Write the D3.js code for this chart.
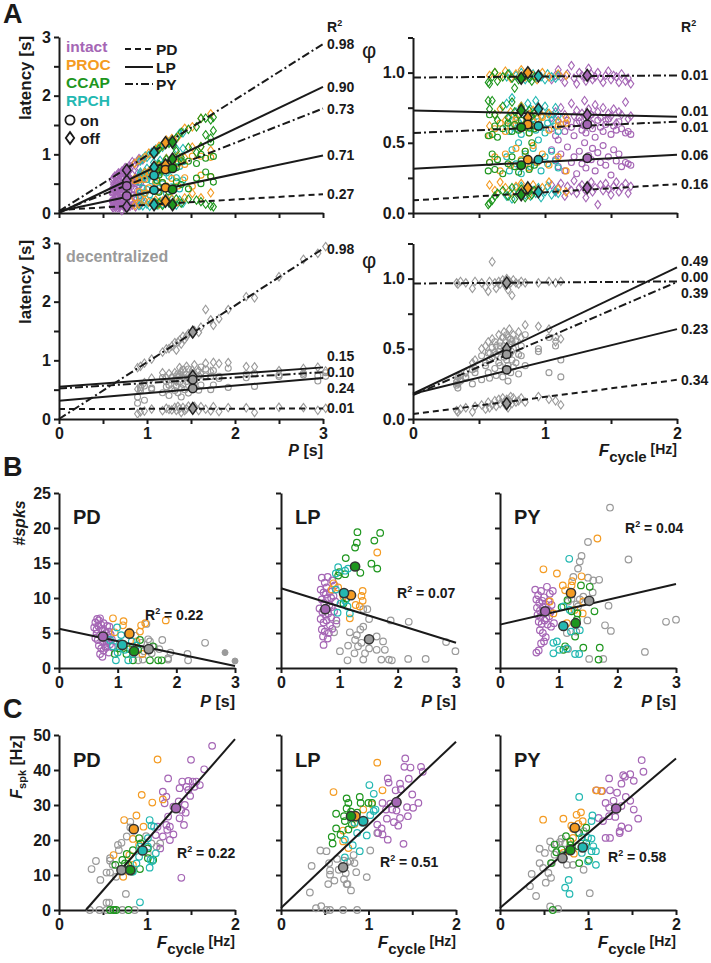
<!DOCTYPE html>
<html lang="en">
<head>
<meta charset="UTF-8">
<title>Phase, latency and spikes</title>
<script src="https://cdn.jsdelivr.net/npm/d3@7"></script>
<style>
    body { margin: 0; background: #fff; }
    svg { font-family: "Liberation Sans", Arial, sans-serif; font-weight: bold; }
</style>
</head>
<body>
<svg id="fig" width="711" height="963"></svg>
<script>
// ---------- data ----------
const groupNames = ["intact", "PROC", "CCAP", "RPCH"];
const groupColors = {intact: "#a566b5", PROC: "#f49b22", CCAP: "#1e961e", RPCH: "#23b8b2", decent: "#9a9a9a"};
const events = ["pdOff", "lpOn", "lpOff", "pyOn", "pyOff"];
const eventShape = ["diamond", "circle", "diamond", "circle", "diamond"];
const eventNeuron = ["PD", "LP", "LP", "PY", "PY"];

// rows: [Fcycle, phase PD off, LP on, LP off, PY on, PY off]
const phaseIntact = [
    [1.05, 0.20, 0.45, 0.68, 0.60, 0.95], [1.08, 0.15, 0.38, 0.72, 0.55, 0.98], [1.10, 0.18, 0.33, 0.66, 0.52, 1.02],
    [1.12, 0.21, 0.42, 0.75, 0.63, 0.97], [1.15, 0.12, 0.30, 0.70, 0.58, 0.93], [1.17, 0.19, 0.47, 0.62, 0.66, 0.99],
    [1.20, 0.16, 0.36, 0.78, 0.61, 1.05], [1.22, 0.23, 0.40, 0.69, 0.55, 0.96], [1.24, 0.14, 0.28, 0.73, 0.64, 0.92],
    [1.26, 0.18, 0.44, 0.65, 0.68, 1.00], [1.28, 0.20, 0.35, 0.71, 0.59, 0.98], [1.30, 0.17, 0.50, 0.80, 0.62, 0.97],
    [1.31, 0.11, 0.32, 0.67, 0.57, 0.94], [1.33, 0.19, 0.41, 0.74, 0.65, 1.03], [1.35, 0.22, 0.38, 0.70, 0.70, 0.99],
    [1.36, 0.15, 0.46, 0.63, 0.60, 0.95], [1.38, 0.18, 0.30, 0.77, 0.54, 0.97], [1.40, 0.06, 0.43, 0.72, 0.66, 1.00],
    [1.42, 0.20, 0.36, 0.68, 0.61, 0.96], [1.44, 0.16, 0.48, 0.75, 0.58, 0.93], [1.46, 0.21, 0.34, 0.66, 0.63, 0.98],
    [1.48, 0.17, 0.40, 0.71, 0.67, 1.01], [1.50, 0.13, 0.27, 0.69, 0.56, 0.95], [1.52, 0.19, 0.45, 0.74, 0.62, 0.98],
    [1.54, 0.22, 0.37, 0.64, 0.59, 0.97], [1.56, 0.15, 0.42, 0.72, 0.65, 0.93], [1.58, 0.18, 0.33, 0.70, 0.60, 0.99],
    [1.61, 0.21, 0.36, 0.79, 0.57, 0.94], [1.63, 0.14, 0.35, 0.67, 0.58, 0.96], [1.65, 0.19, 0.34, 0.69, 0.56, 0.92]
];
const phasePROC = [
    [0.58, 0.20, 0.36, 0.62, 0.55, 0.98], [0.62, 0.16, 0.40, 0.70, 0.60, 1.00], [0.66, 0.22, 0.30, 0.74, 0.64, 0.97],
    [0.70, 0.18, 0.42, 0.66, 0.58, 1.01], [0.74, 0.14, 0.34, 0.72, 0.62, 0.96], [0.78, 0.19, 0.46, 0.68, 0.66, 0.99],
    [0.82, 0.21, 0.38, 0.76, 0.60, 1.02], [0.85, 0.17, 0.44, 0.64, 0.63, 0.97], [0.88, 0.13, 0.32, 0.70, 0.57, 1.00],
    [0.91, 0.20, 0.48, 0.73, 0.65, 0.98], [0.94, 0.16, 0.36, 0.67, 0.61, 0.95], [0.98, 0.18, 0.42, 0.69, 0.68, 1.00],
    [1.03, 0.22, 0.34, 0.71, 0.59, 0.97], [1.10, 0.17, 0.40, 0.65, 0.62, 0.99], [1.16, 0.15, 0.30, 0.68, 0.64, 0.98]
];
const phaseCCAP = [
    [0.57, 0.06, 0.30, 0.80, 0.55, 0.93], [0.58, 0.07, 0.36, 0.74, 0.70, 0.92], [0.60, 0.09, 0.42, 0.80, 0.56, 0.97],
    [0.62, 0.12, 0.31, 0.70, 0.62, 1.00], [0.64, 0.14, 0.38, 0.66, 0.54, 0.94], [0.68, 0.16, 0.28, 0.76, 0.60, 0.97],
    [0.72, 0.12, 0.35, 0.68, 0.64, 0.99], [0.75, 0.18, 0.40, 0.79, 0.58, 0.96], [0.77, 0.10, 0.33, 0.72, 0.63, 0.89],
    [0.80, 0.14, 0.29, 0.70, 0.59, 0.95], [0.82, 0.17, 0.37, 0.75, 0.66, 0.97], [0.85, 0.11, 0.44, 0.63, 0.61, 0.98],
    [0.88, 0.15, 0.31, 0.73, 0.57, 0.96], [0.90, 0.13, 0.50, 0.69, 0.62, 0.94], [0.92, 0.16, 0.34, 0.71, 0.60, 0.97]
];
const phaseRPCH = [
    [0.71, 0.12, 0.40, 0.78, 0.62, 0.97], [0.73, 0.16, 0.30, 0.68, 0.58, 0.99], [0.75, 0.10, 0.45, 0.82, 0.66, 0.96],
    [0.78, 0.18, 0.35, 0.72, 0.60, 0.98], [0.80, 0.14, 0.50, 0.65, 0.64, 0.97], [0.82, 0.19, 0.28, 0.76, 0.56, 1.00],
    [0.85, 0.13, 0.42, 0.70, 0.62, 0.95], [0.87, 0.17, 0.38, 0.78, 0.68, 0.98], [0.89, 0.12, 0.33, 0.74, 0.60, 0.97],
    [0.91, 0.16, 0.46, 0.67, 0.63, 0.99], [0.93, 0.14, 0.36, 0.80, 0.59, 0.96], [0.95, 0.18, 0.52, 0.72, 0.65, 0.98],
    [0.97, 0.11, 0.30, 0.69, 0.61, 0.97], [1.00, 0.15, 0.40, 0.76, 0.57, 0.95], [1.02, 0.19, 0.35, 0.71, 0.64, 0.99],
    [1.05, 0.13, 0.44, 0.66, 0.70, 0.97], [1.08, 0.16, 0.37, 0.75, 0.62, 0.96], [1.10, 0.14, 0.32, 0.69, 0.58, 0.98]
];
const phaseDecent = [
    [0.33, 0.06, 0.24, 0.27, 0.26, 0.97], [0.34, 0.05, 0.22, 0.30, 0.25, 0.96], [0.36, 0.07, 0.27, 0.31, 0.28, 0.98],
    [0.40, 0.08, 0.30, 0.33, 0.29, 0.97], [0.45, 0.05, 0.25, 0.40, 0.35, 0.93], [0.47, 0.09, 0.36, 0.42, 0.33, 0.98],
    [0.52, 0.10, 0.28, 0.50, 0.45, 0.97], [0.55, 0.07, 0.40, 0.52, 0.38, 0.94], [0.57, 0.12, 0.33, 0.55, 0.47, 0.91],
    [0.58, 0.08, 0.29, 0.47, 0.42, 0.98], [0.60, 0.10, 0.44, 0.57, 0.51, 1.12], [0.62, 0.13, 0.36, 0.48, 0.55, 0.97],
    [0.63, 0.09, 0.31, 0.52, 0.46, 0.93], [0.65, 0.14, 0.48, 0.60, 0.40, 0.98], [0.66, 0.11, 0.38, 0.55, 0.52, 0.96],
    [0.68, 0.15, 0.30, 0.47, 0.58, 0.99], [0.69, 0.12, 0.52, 0.62, 0.44, 0.97], [0.70, 0.10, 0.35, 0.56, 0.49, 0.95],
    [0.71, 0.14, 0.42, 0.50, 0.60, 1.00], [0.72, 0.08, 0.27, 0.58, 0.38, 0.92], [0.73, 0.13, 0.46, 0.64, 0.53, 0.98],
    [0.74, 0.16, 0.33, 0.53, 0.57, 0.97], [0.75, 0.11, 0.55, 0.48, 0.42, 0.88], [0.76, 0.15, 0.37, 0.60, 0.50, 0.99],
    [0.78, 0.12, 0.40, 0.56, 0.55, 0.97], [0.80, 0.13, 0.32, 0.62, 0.46, 0.96], [0.82, 0.15, 0.45, 0.58, 0.52, 0.98],
    [0.85, 0.12, 0.38, 0.67, 0.60, 0.97], [0.95, 0.16, 0.50, 0.66, 0.48, 0.97], [1.03, 0.14, 0.33, 0.64, 0.58, 0.98],
    [1.08, 0.13, 0.58, 0.55, 0.52, 0.97], [1.12, 0.10, 0.42, 0.57, 0.30, 0.98]
];

// group means: latency panels [P, lat x5], phase panels [F, phase x5]
const meanLatency = {
    intact: [0.77, 0.11, 0.29, 0.55, 0.46, 0.73], RPCH: [1.08, 0.14, 0.39, 0.78, 0.64, 1.03],
    PROC: [1.21, 0.20, 0.43, 0.82, 0.74, 1.20], CCAP: [1.29, 0.14, 0.40, 0.92, 0.76, 1.21]
};
const meanPhase = {
    intact: [1.32, 0.18, 0.39, 0.70, 0.63, 0.98], PROC: [0.87, 0.18, 0.38, 0.68, 0.63, 1.00],
    CCAP: [0.82, 0.13, 0.34, 0.73, 0.61, 0.96], RPCH: [0.95, 0.15, 0.38, 0.74, 0.62, 0.975]
};
const meanLatencyDecent = [1.52, 0.18, 0.52, 0.73, 0.67, 1.48];
const meanPhaseDecent = [0.71, 0.11, 0.35, 0.50, 0.46, 0.97];

// fits per event: [intercept, slope, R2]
const fitLatency = [[0.05, 0.09, "0.27"], [0.03, 0.317, "0.71"], [0.0, 0.717, "0.90"], [0.02, 0.587, "0.73"], [0.03, 0.95, "0.98"]];
const fitPhase = [[0.09, 0.0575, "0.16"], [0.315, 0.05, "0.06"], [0.73, -0.0225, "0.01"], [0.57, 0.04, "0.01"], [0.965, 0.0075, "0.01"]];
const fitLatencyDecent = [[0.17, 0.003, "0.01"], [0.31, 0.13, "0.24"], [0.55, 0.11, "0.15"], [0.52, 0.093, "0.10"], [0.0, 0.967, "0.98"]];
const fitPhaseDecent = [[0.035, 0.122, "0.34"], [0.18, 0.23, "0.23"], [0.18, 0.45, "0.49"], [0.17, 0.403, "0.39"], [0.965, 0.0075, "0.00"]];

// B: spike count vs P
const spksPD = {
    decent: [[1.49,6.3],[1.52,4.1],[1.76,4.0],[1.9,2.2],[1.86,1.2],[2.19,2.0],[2.2,1.1],[2.49,3.6],[1.86,1.4],[1.58,2.1],[1.43,1.2],[1.71,2.7],[1.35,1.1],[1.4,3.6],[1.62,3.0],[1.3,4.6],[1.55,3.8],[1.45,2.4]],
    intact: [[0.62,6.5],[0.65,7.0],[0.68,6.8],[0.70,7.1],[0.72,6.2],[0.60,5.8],[0.64,5.5],[0.67,6.0],[0.73,5.6],[0.76,6.4],[0.78,5.3],[0.80,5.0],[0.83,4.6],[0.85,5.2],[0.88,4.8],[0.62,4.3],[0.66,4.0],[0.70,4.7],[0.74,3.8],[0.77,4.2],[0.81,3.6],[0.84,3.9],[0.87,3.4],[0.90,4.1],[0.68,3.2],[0.72,2.8],[0.76,2.5],[0.80,2.9],[0.85,2.2],[0.70,2.0],[0.74,1.6],[0.79,3.1],[0.82,6.0],[0.86,5.9],[0.64,4.9],[0.90,3.0]],
    PROC: [[0.92,7.1],[1.09,6.1],[1.1,6.7],[0.95,5.1],[1.4,6.1],[1.47,6.4],[1.82,6.8],[1.2,5.2],[1.38,5.2],[1.42,2.0],[1.32,3.8],[1.26,3.1]],
    CCAP: [[1.6,3.1],[1.26,1.1],[1.55,1.1],[1.69,1.1],[1.75,1.1],[1.15,2.0],[0.95,2.0],[1.38,4.0],[1.04,2.8],[1.2,2.7],[1.35,2.6],[1.1,3.4]],
    RPCH: [[0.99,5.8],[1.04,3.6],[0.97,1.1],[1.18,1.1],[1.24,3.8],[0.87,4.0],[1.06,4.7],[1.12,2.6],[0.92,3.1],[1.32,3.2],[1.26,2.0],[1.0,2.2]]
};
const spksPDFilled = [[2.83, 2.2], [3.0, 1.0]];
const spksLP = {
    decent: [[1.41,8.4],[1.48,8.4],[1.51,7.0],[1.88,6.8],[2.19,6.6],[2.83,3.7],[2.99,2.4],[1.64,4.5],[1.75,3.8],[1.78,2.6],[1.85,1.2],[1.9,1.1],[2.18,1.3],[2.48,1.3],[1.72,1.2],[1.41,1.2],[1.14,1.1],[1.01,2.4],[1.15,3.2],[1.27,4.0],[1.32,3.1],[1.38,3.6],[1.3,4.7],[1.18,5.1],[1.36,5.5],[1.41,5.9],[0.95,6.3],[0.91,5.1],[1.44,2.1],[1.51,2.8],[1.64,2.6],[1.26,2.1]],
    intact: [[0.70,12.9],[0.75,12.2],[0.80,13.0],[0.88,12.5],[0.92,11.8],[0.68,11.2],[0.73,10.8],[0.78,11.5],[0.84,10.9],[0.90,10.3],[0.70,9.8],[0.74,9.3],[0.79,9.9],[0.83,9.0],[0.87,8.7],[0.93,9.5],[0.66,8.5],[0.71,8.0],[0.76,7.6],[0.81,7.8],[0.86,7.2],[0.91,8.1],[0.68,7.0],[0.73,6.5],[0.78,6.8],[0.84,6.1],[0.95,6.8],[0.70,5.5],[0.75,5.2],[0.82,5.0],[0.88,5.6],[0.72,4.5],[0.80,4.2],[0.73,3.3],[0.86,10.0],[0.77,10.5]],
    PROC: [[1.65,16.5],[1.4,11.0],[1.38,10.3],[1.4,9.6],[1.28,9.0],[1.35,8.8],[0.9,12.1],[0.87,11.2],[1.18,7.1],[0.98,11.5],[1.07,10.2]],
    CCAP: [[1.31,19.4],[1.7,19.3],[1.3,17.9],[1.6,18.2],[1.27,17.2],[1.11,15.7],[1.55,14.9],[1.65,14.2],[1.36,13.6],[0.98,13.2],[1.1,13.4],[1.0,13.7],[1.12,9.9],[1.07,9.2]],
    RPCH: [[0.98,14.4],[1.1,13.9],[0.94,13.5],[1.15,14.2],[0.94,11.2],[0.97,7.9],[1.02,9.2],[1.14,8.8],[1.18,7.8],[1.1,9.6]]
};
const spksPY = {
    decent: [[1.875,22.9],[1.5,18.0],[1.39,16.0],[1.36,15.2],[1.33,14.2],[2.19,15.5],[1.25,13.0],[1.5,12.9],[1.59,12.5],[1.69,12.6],[1.58,10.8],[1.85,8.9],[1.89,5.3],[1.79,6.1],[1.49,6.8],[2.83,6.6],[3.0,6.9],[2.47,2.3],[1.52,1.3],[1.76,1.3],[1.31,9.1],[1.36,9.8],[1.42,10.2],[1.33,8.8],[1.16,9.5],[1.22,9.9],[1.3,5.2],[1.16,2.7],[1.14,5.0]],
    intact: [[0.60,11.2],[0.65,10.4],[0.70,11.0],[0.75,10.1],[0.80,11.6],[0.85,10.6],[0.62,9.8],[0.67,9.3],[0.72,9.6],[0.78,9.1],[0.83,9.5],[0.88,9.0],[0.63,8.6],[0.68,8.2],[0.73,8.7],[0.82,8.3],[0.86,8.0],[0.64,7.6],[0.69,7.3],[0.74,7.8],[0.79,7.1],[0.84,7.4],[0.66,6.6],[0.71,6.3],[0.76,6.8],[0.81,6.2],[0.87,5.9],[0.68,5.4],[0.73,5.0],[0.78,4.4],[0.70,3.5],[0.66,2.5],[0.62,2.2],[0.92,6.4],[0.90,11.0],[0.75,3.8]],
    PROC: [[1.66,18.5],[0.74,14.1],[0.97,13.5],[1.07,11.8],[1.22,11.8],[1.23,12.4],[1.11,11.1],[1.39,13.1],[1.42,9.5],[1.41,7.8],[1.27,8.3],[0.85,9.5],[0.91,7.8],[1.14,6.4]],
    CCAP: [[1.38,11.8],[1.53,11.6],[1.15,9.7],[1.05,8.7],[1.22,8.1],[1.32,7.8],[1.61,8.1],[1.31,6.9],[1.28,4.5],[1.11,3.1],[1.42,2.9],[1.7,2.9],[1.68,1.2],[1.08,2.6]],
    RPCH: [[1.18,15.6],[1.08,8.8],[1.19,8.3],[0.91,3.6],[0.97,3.8],[1.01,2.6],[1.14,2.8],[0.91,2.1],[1.28,2.0],[1.35,2.0],[1.21,5.2],[1.36,5.4]]
};
const spksMeans = {
    PD: {intact: [0.75, 4.5], PROC: [1.2, 4.9], RPCH: [1.08, 3.3], CCAP: [1.28, 2.4], decent: [1.53, 2.7]},
    LP: {intact: [0.76, 8.4], PROC: [1.2, 10.4], RPCH: [1.08, 10.7], CCAP: [1.27, 14.5], decent: [1.51, 4.1]},
    PY: {intact: [0.77, 8.1], PROC: [1.21, 10.7], RPCH: [1.08, 6.0], CCAP: [1.29, 6.4], decent: [1.52, 9.6]}
};
const spksFit = {PD: [5.6, -1.77, "0.22"], LP: [11.4, -2.6, "0.07"], PY: [6.2, 1.93, "0.04"]};

// C: spike frequency vs Fcycle
const fspkPD = {
    decent: [[0.81,25.2],[0.81,23.6],[0.77,21.0],[0.71,19.2],[0.67,18.6],[0.68,17.1],[0.58,14.8],[0.58,14.1],[0.42,14.0],[0.37,11.7],[0.47,8.6],[0.54,10.7],[0.58,10.7],[0.61,12.9],[0.76,4.6],[0.54,2.1],[0.57,2.1],[0.35,0],[0.46,0],[0.54,0],[0.63,0],[0.72,0],[0.86,0],[0.99,21.1],[1.05,19.0],[1.15,19.0],[1.11,18.1],[1.01,16.2],[0.65,9.5]],
    intact: [[1.74,46.9],[1.5,42.9],[1.65,40.2],[1.24,37.6],[1.4,36.7],[1.47,36.9],[1.52,36.7],[1.56,36.7],[1.6,35.7],[1.54,35.2],[1.45,35.2],[1.37,34.8],[1.47,34.3],[1.49,32.6],[1.18,33.8],[1.22,32.4],[1.2,30.5],[1.36,31.0],[1.3,29.5],[1.43,30.0],[1.39,28.6],[1.44,27.8],[1.24,26.7],[1.37,26.2],[1.42,24.3],[1.22,24.3],[1.26,23.8],[1.12,23.8],[1.18,21.0],[1.3,21.6],[1.26,20.0],[1.15,17.6],[1.39,9.2],[1.1,21.4],[1.23,22.9]],
    PROC: [[1.12,43.0],[0.94,32.9],[1.18,31.6],[1.06,30.7],[0.74,25.7],[0.88,27.0],[0.96,23.8],[0.62,15.7],[0.84,20.3],[0.91,18.6],[0.73,9.5],[0.8,15.7],[0.84,12.9]],
    CCAP: [[0.91,20.5],[0.93,19.0],[0.84,17.1],[0.77,16.0],[0.72,14.3],[0.64,12.9],[0.79,12.9],[1.01,17.6],[1.01,14.8],[0.92,11.7],[0.83,11.0],[1.07,14.3],[0.58,0],[0.62,0],[0.65,0],[0.79,0],[0.75,13.3]],
    RPCH: [[1.03,25.7],[1.05,24.1],[1.08,23.8],[1.01,20.5],[0.92,18.1],[1.01,18.1],[1.1,16.2],[0.91,15.2],[1.04,14.3],[1.06,14.0],[1.03,12.1],[0.84,11.0],[0.92,2.2],[0.88,13.3]]
};
const fspkLP = {
    decent: [[0.45,17.0],[0.52,16.8],[0.35,12.6],[0.33,5.0],[0.55,13.4],[0.56,11.3],[0.56,10.1],[0.54,7.4],[0.61,8.4],[0.66,11.5],[0.72,14.1],[0.76,13.7],[0.79,13.9],[0.84,13.4],[0.74,10.5],[0.75,7.4],[0.72,8.8],[0.86,10.8],[0.98,9.4],[1.02,17.0],[1.1,22.0],[0.64,14.6],[0.8,5.6],[0.4,0.5],[0.46,1.1],[0.52,0],[0.56,0],[0.71,0],[0.87,0],[0.76,7.4],[0.83,15.7]],
    intact: [[1.42,43.3],[1.6,40.9],[1.41,40.9],[1.48,40.7],[1.62,39.5],[1.22,37.6],[1.23,36.4],[1.46,37.5],[1.36,36.1],[1.31,34.2],[1.37,34.5],[1.5,33.0],[1.57,30.6],[1.16,30.6],[1.25,30.4],[1.2,28.7],[1.27,28.7],[1.32,28.4],[1.44,29.4],[1.45,26.8],[1.36,26.3],[1.29,25.1],[1.34,24.1],[1.21,26.1],[1.1,24.4],[1.11,22.0],[1.16,21.6],[1.22,20.1],[1.4,18.9],[1.15,23.3],[1.51,29.2]],
    PROC: [[1.1,42.1],[0.6,33.7],[1.16,34.2],[0.94,28.7],[0.85,26.8],[0.84,24.6],[0.71,22.7],[0.71,19.6],[0.77,17.7],[1.04,30.2]],
    CCAP: [[0.75,31.9],[0.77,30.6],[0.9,32.3],[1.0,30.6],[0.75,29.0],[0.63,27.5],[0.72,26.8],[0.8,28.1],[0.91,30.6],[0.73,25.4],[0.63,23.3],[0.68,21.5],[0.58,20.9],[0.59,19.0],[0.77,23.0],[0.81,24.4],[0.87,27.8],[1.04,30.6]],
    RPCH: [[1.01,35.7],[1.06,33.2],[1.08,28.7],[1.06,28.3],[1.02,27.1],[0.84,24.9],[0.87,22.0],[0.98,21.3],[0.82,18.5],[0.9,16.8],[0.73,15.0],[0.73,20.1],[0.93,24.9]]
};
const fspkPY = {
    decent: [[0.95,22.5],[0.89,22.0],[0.7,20.4],[0.68,19.4],[0.74,19.1],[0.64,18.7],[0.57,19.6],[0.45,17.5],[0.59,17.7],[0.51,16.3],[0.62,15.8],[0.7,15.8],[0.83,12.9],[0.95,11.5],[0.59,13.4],[0.45,13.4],[0.49,12.0],[0.55,10.6],[0.58,9.2],[0.52,7.8],[0.41,4.0],[0.36,10.3],[0.34,6.8],[1.02,4.8],[0.57,1.0],[0.66,0.3],[0.76,12.9]],
    intact: [[1.61,42.8],[1.63,39.5],[1.24,37.6],[1.4,38.5],[1.42,38.1],[1.48,38.8],[1.52,36.9],[1.38,36.1],[1.25,34.2],[1.1,34.2],[1.16,34.0],[1.33,33.5],[1.43,32.3],[1.48,31.2],[1.29,31.2],[1.2,30.6],[1.24,29.2],[1.38,29.7],[1.52,28.7],[1.57,26.1],[1.31,26.6],[1.24,26.8],[1.17,25.4],[1.12,26.3],[1.38,23.9],[1.36,22.0],[1.25,20.6],[1.2,20.6],[1.36,22.5],[1.46,23.4]],
    PROC: [[1.09,34.2],[1.15,34.0],[0.49,25.8],[0.72,26.1],[0.87,27.2],[0.92,27.9],[0.89,24.6],[0.94,25.4],[0.81,24.1],[0.83,23.2],[0.83,20.6],[0.72,16.3],[0.84,16.1],[0.8,19.6]],
    CCAP: [[0.98,23.5],[0.9,22.0],[0.75,21.1],[0.8,19.6],[0.62,18.7],[0.8,18.5],[0.89,18.2],[0.64,16.5],[0.7,17.2],[0.98,19.1],[0.9,13.4],[1.01,14.3],[0.58,13.4],[0.6,0]],
    RPCH: [[0.9,32.3],[1.05,27.0],[1.04,25.4],[0.93,20.8],[1.0,20.6],[1.04,20.4],[0.97,18.2],[1.06,18.2],[1.04,16.8],[0.93,16.3],[1.09,16.8],[1.0,13.9],[1.09,12.9],[0.78,8.6],[0.74,6.4],[0.79,4.6]]
};
const fspkMeans = {
    PD: {intact: [1.33, 29.1], PROC: [0.85, 23.1], RPCH: [0.95, 17.0], CCAP: [0.81, 11.4], decent: [0.71, 11.4]},
    LP: {intact: [1.32, 30.8], PROC: [0.85, 26.8], RPCH: [0.94, 25.4], CCAP: [0.8, 26.8], decent: [0.71, 12.2]},
    PY: {intact: [1.32, 29.0], PROC: [0.85, 23.5], RPCH: [0.94, 17.9], CCAP: [0.8, 17.1], decent: [0.71, 14.8]}
};
const fspkFit = {PD: [-8.8, 28.8, "0.22"], LP: [0.6, 23.75, "0.51"], PY: [0.6, 21.35, "0.58"]};

// ---------- drawing ----------
const svg = d3.select("#fig");
const ink = "#1a1a1a";
const fontFam = "'Liberation Sans', Arial, sans-serif";
const dashes = {PD: "6,4", LP: null, PY: "8,3,2,3"};

function makePanel(xr, yr, xd, yd) {
    return {x: d3.scaleLinear().domain(xd).range(xr), y: d3.scaleLinear().domain(yd).range(yr)};
}

function axes(p, o) {
    const fx = d3.format(o.xFmt || "d"), fy = d3.format(o.yFmt || "d");
    const gx = svg.append("g")
        .attr("transform", `translate(0,${p.y.range()[0]})`)
        .call(d3.axisBottom(p.x).tickValues(o.xTicks).tickSize(5).tickSizeOuter(0).tickPadding(4)
            .tickFormat(d => o.xLab && o.xLab.includes(d) ? fx(d) : ""));
    const gy = svg.append("g")
        .attr("transform", `translate(${p.x.range()[0]},0)`)
        .call(d3.axisLeft(p.y).tickValues(o.yTicks).tickSize(5).tickSizeOuter(0).tickPadding(3)
            .tickFormat(d => o.yLab && o.yLab.includes(d) ? fy(d) : ""));
    [gx, gy].forEach(g => {
        g.attr("font-family", fontFam).attr("font-size", 16).attr("font-weight", "bold");
        g.selectAll("path,line").attr("stroke", ink).attr("stroke-width", 2);
        g.selectAll("text").attr("fill", ink);
    });
}

function marker(g, shape, cx, cy, size, fill, stroke, sw) {
    if (shape === "circle") {
        g.append("circle").attr("cx", cx).attr("cy", cy).attr("r", size)
            .attr("fill", fill).attr("stroke", stroke).attr("stroke-width", sw);
    } else {
        const w = size, h = size * 1.4;
        g.append("path").attr("d", `M${cx},${cy - h}L${cx + w},${cy}L${cx},${cy + h}L${cx - w},${cy}Z`)
            .attr("fill", fill).attr("stroke", stroke).attr("stroke-width", sw);
    }
}

function spread(items, gap) {
    items.sort((a, b) => a.y - b.y);
    let cl = items.map(d => ({list: [d], c: d.y}));
    let changed = true;
    while (changed) {
        changed = false;
        for (let i = 1; i < cl.length; i++) {
            const a = cl[i - 1], b = cl[i];
            const aBot = a.c + (a.list.length - 1) * gap / 2;
            const bTop = b.c - (b.list.length - 1) * gap / 2;
            if (bTop - aBot < gap) {
                const list = a.list.concat(b.list);
                cl.splice(i - 1, 2, {list, c: d3.mean(list, d => d.y)});
                changed = true;
                break;
            }
        }
    }
    cl.forEach(c => c.list.forEach((d, k) => d.ly = c.c + (k - (c.list.length - 1) / 2) * gap));
}

function fitLine(g, p, b0, b1, dash) {
    const [xa, xb] = p.x.domain();
    const y0 = p.y.domain()[0];
    let x0 = xa;
    if (b0 + b1 * xa < y0 && b1 > 0) x0 = (y0 - b0) / b1;
    g.append("line")
        .attr("x1", p.x(x0)).attr("y1", p.y(b0 + b1 * x0))
        .attr("x2", p.x(xb)).attr("y2", p.y(b0 + b1 * xb))
        .attr("stroke", ink).attr("stroke-width", 2)
        .attr("stroke-dasharray", dash);
}

function text(x, y, str, o = {}) {
    return svg.append("text").attr("x", x).attr("y", y).text(str)
        .attr("font-size", o.size || 16).attr("fill", o.fill || ink)
        .attr("text-anchor", o.anchor || "start")
        .attr("font-style", o.italic ? "italic" : null)
        .attr("font-weight", o.weight || "bold");
}

// panel A: phase data drawn either as latency vs P or phase vs Fcycle
function drawEventPanel(p, groups, means, fits, asLatency) {
    const g = svg.append("g");
    groups.forEach(([rows, color]) => {
        rows.forEach(r => {
            const F = r[0];
            events.forEach((e, i) => {
                const xv = asLatency ? 1 / F : F;
                const yv = asLatency ? r[i + 1] / F : r[i + 1];
                marker(g, eventShape[i], p.x(xv), p.y(yv), 3, "none", color, 1.1);
            });
        });
    });
    const labels = [];
    fits.forEach(([b0, b1, r2], i) => {
        fitLine(g, p, b0, b1, dashes[eventNeuron[i]]);
        labels.push({y: p.y(b0 + b1 * p.x.domain()[1]), t: r2});
    });
    spread(labels, 16);
    labels.forEach(l => text(p.x.range()[1] + 4, l.ly + 5, l.t, {size: 14}));
    means.forEach(([m, color]) => {
        events.forEach((e, i) => marker(g, eventShape[i], p.x(m[0]), p.y(m[i + 1]), 4.2, color, "#222", 1.5));
    });
}

const coloredGroups = [[phaseIntact, groupColors.intact], [phaseRPCH, groupColors.RPCH], [phasePROC, groupColors.PROC], [phaseCCAP, groupColors.CCAP]];
const latTicks = d3.range(0, 3.01, 0.5), phTicks = [0, 0.25, 0.5, 0.75, 1.0, 1.25];

const pTL = makePanel([59, 323], [213, 37], [0, 3], [0, 3]);
axes(pTL, {xTicks: latTicks, xLab: [], yTicks: latTicks, yLab: [0, 1, 2, 3]});
drawEventPanel(pTL, coloredGroups, groupNames.map(n => [meanLatency[n], groupColors[n]]), fitLatency, true);

const pTR = makePanel([413, 677], [213, 37.5], [0, 2], [0, 1.25]);
axes(pTR, {xTicks: [0, 0.5, 1, 1.5, 2], xLab: [], yTicks: phTicks, yLab: [0, 0.5, 1.0], yFmt: ".1f"});
drawEventPanel(pTR, coloredGroups, groupNames.map(n => [meanPhase[n], groupColors[n]]), fitPhase, false);

const pBL = makePanel([59, 323], [419, 243], [0, 3], [0, 3]);
axes(pBL, {xTicks: latTicks, xLab: [0, 1, 2, 3], yTicks: latTicks, yLab: [0, 1, 2, 3]});
drawEventPanel(pBL, [[phaseDecent, groupColors.decent]], [[meanLatencyDecent, groupColors.decent]], fitLatencyDecent, true);

const pBR = makePanel([413, 677], [419, 243.5], [0, 2], [0, 1.25]);
axes(pBR, {xTicks: [0, 0.5, 1, 1.5, 2], xLab: [0, 1, 2], yTicks: phTicks, yLab: [0, 0.5, 1.0], yFmt: ".1f"});
drawEventPanel(pBR, [[phaseDecent, groupColors.decent]], [[meanPhaseDecent, groupColors.decent]], fitPhaseDecent, false);

// panel A legend and labels
const legendY = [52, 70, 88, 106];
groupNames.forEach((n, i) => text(66, legendY[i], n, {size: 15.5, fill: groupColors[n]}));
marker(svg, "circle", 70, 120, 4.6, "none", ink, 1.8);
text(80, 126, "on", {size: 15.5});
marker(svg, "diamond", 70, 138, 4.2, "none", ink, 1.8);
text(80, 144, "off", {size: 15.5});
["PD", "LP", "PY"].forEach((n, i) => {
    const y = [49, 67, 84][i];
    svg.append("line").attr("x1", 125).attr("x2", 153).attr("y1", y).attr("y2", y)
        .attr("stroke", ink).attr("stroke-width", 2).attr("stroke-dasharray", dashes[n]);
    text(156, y + 6, n, {size: 15.5});
});
text(66, 262, "decentralized", {size: 16, fill: groupColors.decent});

function r2Header(x, y) {
    const t = text(x, y, "R", {size: 14});
    t.append("tspan").attr("font-size", 9).attr("dy", -6).text("2");
}
r2Header(327, 32);
r2Header(681, 32);

function yLabel(x, y, parts, size) {
    const t = svg.append("text").attr("transform", `translate(${x},${y}) rotate(-90)`)
        .attr("text-anchor", "middle").attr("font-size", size).attr("font-weight", "bold").attr("fill", ink);
    parts.forEach(pt => t.append("tspan").text(pt.t).attr("font-style", pt.i ? "italic" : null)
        .attr("font-size", pt.s || null).attr("dy", pt.dy || null));
    return t;
}
yLabel(31, 78, [{t: "latency [s]"}], 17);
yLabel(31, 282, [{t: "latency [s]"}], 17);
text(362, 58, "φ", {size: 22, weight: "normal"});
text(362, 268, "φ", {size: 22, weight: "normal"});

function xLabelP(xr, y) {
    const t = text(xr, y, "", {size: 16, anchor: "end"});
    t.append("tspan").attr("font-style", "italic").text("P");
    t.append("tspan").text(" [s]");
}
function xLabelF(xr, y) {
    const t = text(xr, y, "", {size: 17, anchor: "end"});
    t.append("tspan").attr("font-style", "italic").text("F");
    t.append("tspan").attr("font-size", 15).attr("dy", 6).text("cycle");
    t.append("tspan").attr("font-size", 14).attr("dy", -8).text(" [Hz]");
}
xLabelP(323, 456);
xLabelF(677, 456);

// panels B and C
const colX = [[59, 235], [281, 456], [500, 676]];
const drawOrder = ["decent", "intact", "PROC", "CCAP", "RPCH"];

function drawScatter(p, groups, means, fit, r2pos, name) {
    const g = svg.append("g");
    drawOrder.forEach(n => groups[n].forEach(d =>
        marker(g, "circle", p.x(d[0]), p.y(d[1]), 3.3, "none", groupColors[n], 1.2)));
    fitLine(g, p, fit[0], fit[1], null);
    drawOrder.forEach(n => marker(g, "circle", p.x(means[n][0]), p.y(means[n][1]), 4.6, groupColors[n], "#333", 1.5));
    const t = text(r2pos[0], r2pos[1], "R", {size: 14});
    t.append("tspan").attr("font-size", 9).attr("dy", -6).text("2");
    t.append("tspan").attr("dy", 6).text(" = " + fit[2]);
    text(p.x.range()[0] + 14, r2pos[2], name, {size: 20});
    return g;
}

const spkSets = [["PD", spksPD], ["LP", spksLP], ["PY", spksPY]];
const spkR2 = [[145, 620], [397, 598], [625, 533]];
spkSets.forEach(([n, set], i) => {
    const p = makePanel(colX[i], [668, 493], [0, 3], [0, 25]);
    axes(p, {xTicks: [0, 1, 2, 3], xLab: [0, 1, 2, 3], yTicks: [0, 5, 10, 15, 20, 25], yLab: i === 0 ? [0, 5, 10, 15, 20, 25] : []});
    drawScatter(p, set, spksMeans[n], spksFit[n], [spkR2[i][0], spkR2[i][1], 524], n);
    if (i === 0) spksPDFilled.forEach(d => svg.append("circle").attr("cx", p.x(d[0])).attr("cy", p.y(d[1])).attr("r", 3)
        .attr("fill", groupColors.decent).attr("stroke", groupColors.decent));
    xLabelP(colX[i][1], 707);
});

const fspkSets = [["PD", fspkPD], ["LP", fspkLP], ["PY", fspkPY]];
const fspkR2 = [[177, 858], [380, 867], [608, 862]];
fspkSets.forEach(([n, set], i) => {
    const p = makePanel(colX[i], [910, 735], [0, 2], [0, 50]);
    axes(p, {xTicks: [0, 0.5, 1, 1.5, 2], xLab: [0, 1, 2], yTicks: [0, 10, 20, 30, 40, 50], yLab: i === 0 ? [0, 10, 20, 30, 40, 50] : []});
    drawScatter(p, set, fspkMeans[n], fspkFit[n], [fspkR2[i][0], fspkR2[i][1], 767], n);
    xLabelF(colX[i][1], 948);
});

yLabel(25, 523, [{t: "#spks", i: true}], 16);
yLabel(22, 767, [{t: "F", i: true}, {t: "spk", s: 11, dy: 4}, {t: " [Hz]", dy: -4}], 16);

text(3, 23, "A", {size: 27});
text(3, 476, "B", {size: 27});
text(3, 718, "C", {size: 27});
</script>
</body>
</html>
